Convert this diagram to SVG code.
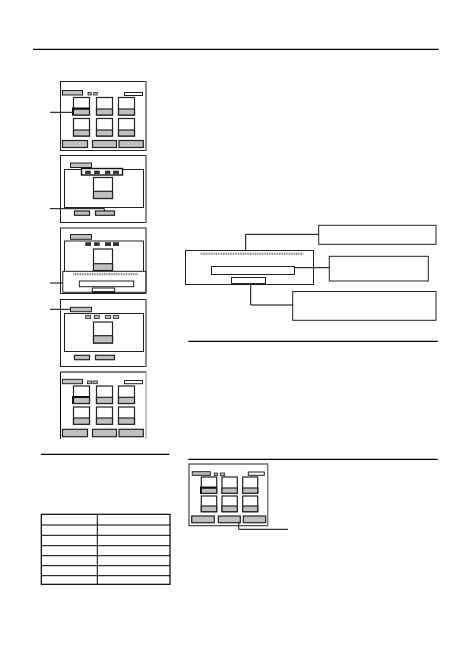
<svg xmlns="http://www.w3.org/2000/svg" width="472" height="668" viewBox="0 0 472 668">
<style>
.scr{fill:#fff;stroke:#222;stroke-width:1}
.edge{stroke:#888;stroke-width:1;fill:none}
.g{fill:#c0c0c0;stroke:#222;stroke-width:1}
.w{fill:#fff;stroke:#222;stroke-width:1}
.t{fill:#fff;stroke:#222;stroke-width:1.2}
.tg{fill:#c0c0c0;stroke:#222;stroke-width:1.2}
.ic{fill:#333;stroke:#222;stroke-width:0.6}
.icg{fill:#bbb;stroke:#222;stroke-width:0.8}
.ln{stroke:#000;stroke-width:1;fill:none}
.rule{stroke:#000;stroke-width:1.2;fill:none}
.dot{stroke:#777;stroke-width:2;stroke-dasharray:1 0.7;fill:none}
.sel{fill:none;stroke:#111;stroke-width:2}
</style>
<g id="rules">
<line class="rule" x1="33" y1="49.3" x2="438.7" y2="49.3"/>
<line class="rule" x1="188.3" y1="341.3" x2="437.7" y2="341.3"/>
<line class="rule" x1="188.3" y1="459.3" x2="437.7" y2="459.3"/>
<line class="rule" x1="41" y1="454.3" x2="169.3" y2="454.3"/>
</g>
<g id="screen1">
<rect class="scr" x="60.5" y="81.5" width="85.5" height="69"/>
<line class="edge" x1="146" y1="81" x2="146" y2="151"/>
<rect class="g" x="62.5" y="90.5" width="20" height="4.5"/>
<rect class="icg" x="88" y="92.5" width="3.3" height="2.5"/>
<rect class="icg" x="93.7" y="92.5" width="3.5" height="2.5"/>
<rect class="w" x="124.5" y="92.5" width="18" height="3"/>
<rect class="t" x="73.5" y="97.5" width="16" height="17.5"/><rect class="tg" x="73.5" y="109" width="16" height="6"/>
<path class="sel" d="M73,115.5 V108.5 H89.5"/>
<rect class="t" x="96.5" y="97.5" width="16" height="17.5"/><rect class="tg" x="96.5" y="109" width="16" height="6"/>
<rect class="t" x="118.5" y="97.5" width="16" height="17.5"/><rect class="tg" x="118.5" y="109" width="16" height="6"/>
<rect class="t" x="73.5" y="118.5" width="16" height="17.5"/><rect class="tg" x="73.5" y="130" width="16" height="6"/>
<rect class="t" x="96.5" y="118.5" width="16" height="17.5"/><rect class="tg" x="96.5" y="130" width="16" height="6"/>
<rect class="t" x="118.5" y="118.5" width="16" height="17.5"/><rect class="tg" x="118.5" y="130" width="16" height="6"/>
<rect class="tg" x="62.5" y="140.5" width="25" height="7"/>
<rect class="tg" x="92.5" y="140.5" width="24" height="7"/>
<rect class="tg" x="119" y="140.5" width="24.3" height="7"/>
</g>
<g id="screen2">
<rect class="scr" x="60.5" y="155.5" width="85.5" height="67"/>
<line class="edge" x1="146" y1="155" x2="146" y2="223"/>
<rect class="g" x="70.5" y="163" width="21" height="4.5"/>
<rect class="w" x="64.5" y="169.5" width="79" height="38"/>
<rect fill="#fff" stroke="#111" stroke-width="1.4" x="81.5" y="168.5" width="41" height="6.5"/>
<rect class="ic" x="85.7" y="171" width="4.6" height="2.7"/>
<rect class="ic" x="94.3" y="171" width="5" height="2.7"/>
<rect class="ic" x="105.3" y="171" width="4.7" height="2.7"/>
<rect class="ic" x="113.3" y="171" width="5.4" height="2.7"/>
<rect class="t" x="93.5" y="177.5" width="19" height="21"/><rect class="tg" x="93.5" y="191.3" width="19" height="7.2"/>
<rect class="tg" x="74.5" y="211" width="15" height="4.3"/>
<rect class="tg" x="95.5" y="211" width="19" height="4.3"/>
</g>
<g id="screen3">
<rect class="scr" x="60.5" y="228" width="85.5" height="65.5"/>
<line class="edge" x1="146" y1="227.5" x2="146" y2="294"/>
<rect class="g" x="70.5" y="234.5" width="21" height="4.8"/>
<rect class="w" x="64.5" y="241" width="79" height="31"/>
<rect class="ic" x="85.7" y="242.7" width="5" height="3"/>
<rect class="ic" x="94.3" y="242.7" width="5" height="3"/>
<rect class="ic" x="105.3" y="242.7" width="5.4" height="3"/>
<rect class="ic" x="113.3" y="242.7" width="5.4" height="3"/>
<rect class="t" x="93.5" y="249" width="19" height="21.5"/><rect class="tg" x="93.5" y="263.7" width="19" height="6.8"/>
<rect class="w" x="62.8" y="271.3" width="83" height="21"/>
<line class="dot" x1="73.3" y1="274.2" x2="138.3" y2="274.2"/>
<rect class="w" x="79.3" y="281" width="54.4" height="5.7"/>
<rect class="w" x="92.3" y="288" width="22.4" height="4"/>
<line stroke="#111" stroke-width="1.6" x1="92.3" y1="292" x2="114.7" y2="292"/>
</g>
<g id="screen4">
<rect class="scr" x="60.5" y="299.5" width="85.5" height="67"/>
<line class="edge" x1="146" y1="299" x2="146" y2="367"/>
<rect class="g" x="70.5" y="307.3" width="21" height="4.4"/>
<rect class="w" x="64.5" y="313.5" width="79" height="38"/>
<rect class="icg" x="85.7" y="315.3" width="5" height="3.3"/>
<rect class="icg" x="94.3" y="315.3" width="5" height="3.3"/>
<rect class="icg" x="105.3" y="315.3" width="5.4" height="3.3"/>
<rect class="icg" x="113.3" y="315.3" width="5.4" height="3.3"/>
<rect class="t" x="93.5" y="322" width="19" height="21"/><rect class="tg" x="93.5" y="335.7" width="19" height="7.3"/>
<rect class="tg" x="74.5" y="355.3" width="15" height="4.4"/>
<rect class="tg" x="95.5" y="355.3" width="19" height="4.4"/>
</g>
<g id="screen5">
<path class="ln" d="M60.5,439 V372 H146" stroke="#222"/>
<line class="edge" x1="146" y1="371.5" x2="146" y2="439"/>
<rect class="g" x="62.5" y="379.3" width="20" height="4.4"/>
<rect class="icg" x="87.5" y="381" width="4" height="2.7"/>
<rect class="icg" x="93" y="381" width="4.3" height="2.7"/>
<rect class="w" x="124.5" y="380.5" width="18" height="3.2"/>
<rect class="t" x="73.5" y="386" width="16" height="17.5"/><rect class="tg" x="73.5" y="397.3" width="16" height="6.2"/>
<path class="sel" d="M73,404 V397 H89.5"/>
<rect class="t" x="96.5" y="386" width="16" height="17.5"/><rect class="tg" x="96.5" y="397.3" width="16" height="6.2"/>
<rect class="t" x="118.5" y="386" width="16" height="17.5"/><rect class="tg" x="118.5" y="397.3" width="16" height="6.2"/>
<rect class="t" x="73.5" y="407" width="16" height="17.3"/><rect class="tg" x="73.5" y="418" width="16" height="6.3"/>
<rect class="t" x="96.5" y="407" width="16" height="17.3"/><rect class="tg" x="96.5" y="418" width="16" height="6.3"/>
<rect class="t" x="118.5" y="407" width="16" height="17.3"/><rect class="tg" x="118.5" y="418" width="16" height="6.3"/>
<rect class="tg" x="62.5" y="429.3" width="25" height="7.4"/>
<rect class="tg" x="92.5" y="429.3" width="24" height="7.4"/>
<rect class="tg" x="119" y="429.3" width="24.3" height="7.4"/>
</g>
<g id="dialog">
<rect class="w" x="185.5" y="250.5" width="128" height="34"/>
<line class="dot" x1="200.7" y1="253.8" x2="303.3" y2="253.8"/>
<rect class="w" x="211.5" y="266.5" width="83" height="8"/>
<rect class="w" x="231.5" y="277.5" width="34" height="6.5"/>
<line stroke="#111" stroke-width="1.6" x1="231.5" y1="284" x2="265.7" y2="284"/>
</g>
<g id="box1"><rect class="w" x="318.7" y="225.3" width="117.3" height="19"/></g>
<g id="box2"><rect class="w" x="329.3" y="256.3" width="99" height="24.7"/></g>
<g id="box3"><rect class="w" x="292.7" y="291.5" width="143.3" height="28.8"/></g>
<g id="screen6">
<rect class="scr" x="189" y="464" width="78.7" height="61.7"/>
<line class="edge" x1="267.7" y1="463.5" x2="267.7" y2="526"/>
<rect class="g" x="192.3" y="471.7" width="18" height="3.6"/>
<rect class="icg" x="214.3" y="473" width="3" height="2.7"/>
<rect class="icg" x="220.3" y="473" width="4.4" height="2.7"/>
<rect class="w" x="248.3" y="472" width="16" height="3.3"/>
<rect class="t" x="201.3" y="477" width="15.4" height="16.3"/><rect class="tg" x="201.3" y="488" width="15.4" height="5.3"/>
<path class="sel" d="M201,494 V487.5 H216.7"/>
<rect class="t" x="222" y="477" width="15.3" height="16.3"/><rect class="tg" x="222" y="488" width="15.3" height="5.3"/>
<rect class="t" x="242.7" y="477" width="15" height="16.3"/><rect class="tg" x="242.7" y="488" width="15" height="5.3"/>
<rect class="t" x="201.3" y="496" width="15.4" height="15.7"/><rect class="tg" x="201.3" y="506" width="15.4" height="5.7"/>
<rect class="t" x="222" y="496" width="15.3" height="15.7"/><rect class="tg" x="222" y="506" width="15.3" height="5.7"/>
<rect class="t" x="242.7" y="496" width="15" height="15.7"/><rect class="tg" x="242.7" y="506" width="15" height="5.7"/>
<rect class="tg" x="191.7" y="516" width="22.6" height="6.7"/>
<rect class="tg" x="218.3" y="516" width="22" height="6.7"/>
<rect class="tg" x="243.3" y="516" width="22.4" height="6.7"/>
</g>
<g id="table" stroke="#000" stroke-width="1" fill="none">
<rect x="41.3" y="514.3" width="128.7" height="70" stroke-width="1.2"/>
<line x1="97.3" y1="514.3" x2="97.3" y2="584.3"/>
<line x1="41.3" y1="525" x2="170" y2="525"/>
<line x1="41.3" y1="535.3" x2="170" y2="535.3"/>
<line x1="41.3" y1="545.7" x2="170" y2="545.7"/>
<line x1="41.3" y1="555.7" x2="170" y2="555.7"/>
<line x1="41.3" y1="565.7" x2="170" y2="565.7"/>
<line x1="41.3" y1="575.7" x2="170" y2="575.7"/>
</g>
<g id="connectors">
<polyline class="ln" points="50,112.3 73.5,112.3"/>
<polyline class="ln" points="50,208.7 104.3,208.7 104.3,211"/>
<polyline class="ln" points="50,283 62.8,283"/>
<polyline class="ln" points="50,309.3 70.5,309.3"/>
<polyline class="ln" points="245.7,250.5 245.7,234.3 318.7,234.3"/>
<polyline class="ln" points="294.5,267.7 329.3,267.7"/>
<polyline class="ln" points="250.7,284 250.7,305 292.7,305"/>
<polyline class="ln" points="238.7,522.7 238.7,529.3 288,529.3"/>
</g>
</svg>
